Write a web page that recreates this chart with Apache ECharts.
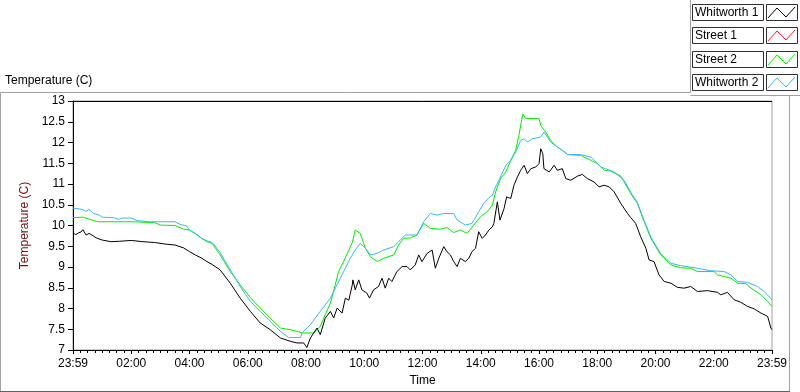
<!DOCTYPE html>
<html>
<head>
<meta charset="utf-8">
<script src="https://cdn.jsdelivr.net/npm/echarts@6/dist/echarts.min.js"></script>
<style>
html,body{margin:0;padding:0;background:#fff;}
#chart{width:800px;height:392px;}
</style>
</head>
<body>
<div id="chart"></div>
<script>
// ---- data (time in hours since 23:59, temperature in C) ----
var seriesNames = ['Whitworth 1', 'Street 1', 'Street 2', 'Whitworth 2'];
var seriesColors = ['#000000', '#ff2020', '#00ee00', '#3cb6f4'];
var xTickLabels = ['23:59','02:00','04:00','06:00','08:00','10:00','12:00','14:00','16:00','18:00','20:00','22:00','23:59'];

var whitworth1Hours = [0.00,0.10,0.20,0.27,0.34,0.45,0.55,0.65,0.80,1.00,1.30,1.60,2.00,2.40,2.80,3.20,3.50,3.80,4.00,4.20,4.40,4.60,4.78,
  5.05,5.40,5.74,6.09,6.43,6.77,7.12,7.46,7.69,7.92,8.03,8.15,8.38,8.49,8.66,8.84,8.95,9.07,9.24,9.35,9.47,9.59,
  9.61,9.69,9.81,9.92,10.09,10.18,10.32,10.49,10.61,10.72,10.84,10.95,11.12,11.30,11.47,11.58,11.75,11.87,11.98,12.16,12.33,12.44,12.56,12.73,12.84,12.96,13.07,13.19,13.30,13.47,13.59,13.70,13.82,13.93,14.05,14.16,14.28,14.40,
  14.45,14.57,14.66,14.80,14.89,15.03,15.14,15.26,15.37,15.49,15.60,15.72,15.89,16.00,16.06,16.13,16.17,16.35,16.52,16.63,16.80,16.92,17.09,17.32,17.49,17.66,17.89,18.06,18.24,18.41,18.58,18.81,19.04,
  19.15,19.32,19.49,19.67,19.78,19.95,20.12,20.30,20.53,20.75,20.98,21.21,21.44,21.79,22.13,22.24,22.47,22.70,22.93,23.16,23.39,23.62,23.85,23.96,24.00];
var whitworth1Temps = [9.82,9.78,9.83,9.84,9.90,9.77,9.81,9.77,9.70,9.65,9.61,9.62,9.64,9.61,9.59,9.55,9.53,9.46,9.37,9.29,9.22,9.13,9.06,
  8.93,8.61,8.25,7.93,7.65,7.49,7.29,7.21,7.17,7.17,7.06,7.29,7.53,7.37,7.77,7.93,7.77,8.01,7.89,8.25,8.20,8.57,
  8.69,8.45,8.69,8.45,8.37,8.25,8.45,8.53,8.73,8.49,8.73,8.65,8.89,9.01,9.01,8.93,9.05,9.29,9.13,9.33,9.41,8.97,9.21,9.49,9.37,9.29,9.13,9.01,9.21,9.13,9.21,9.37,9.45,9.85,9.69,9.77,9.89,9.97,
  10.05,10.57,10.13,10.41,10.69,10.65,10.97,11.17,11.33,11.45,11.25,11.37,11.41,11.49,11.85,11.73,11.37,11.29,11.45,11.33,11.37,11.13,11.09,11.19,11.23,11.13,11.05,10.93,10.97,10.93,10.81,10.53,10.29,
  10.19,10.05,9.73,9.45,9.17,9.13,8.81,8.65,8.61,8.51,8.49,8.53,8.41,8.43,8.39,8.33,8.39,8.21,8.15,8.05,7.99,7.89,7.81,7.53,7.49];

var street1Hours = [];
var street1Temps = [];

var street2Hours = [0.00,0.35,0.70,0.85,2.00,2.80,3.00,3.50,3.80,4.00,4.20,4.40,4.60,4.78,
  5.05,5.40,5.74,6.09,6.43,6.77,7.12,7.46,7.69,7.86,8.26,8.49,8.66,8.84,9.12,9.29,9.59,
  9.69,9.86,10.04,10.21,10.44,10.67,11.01,11.18,11.35,11.58,11.81,12.04,12.27,12.61,12.84,13.07,13.30,13.53,13.76,13.99,14.22,14.40,
  14.51,14.68,14.86,15.03,15.20,15.31,15.39,15.45,15.54,16.00,16.06,16.23,16.40,16.63,16.80,16.98,17.43,17.78,18.01,18.24,18.46,18.81,18.92,19.15,19.22,
  19.38,19.61,19.84,20.18,20.53,20.87,21.21,21.44,22.01,22.13,22.59,22.82,23.10,23.28,23.62,23.85,24.00];
var street2Temps = [10.19,10.20,10.12,10.09,10.09,10.07,10.01,10.00,9.91,9.89,9.81,9.70,9.61,9.57,
  9.29,8.89,8.57,8.26,8.01,7.77,7.53,7.49,7.45,7.41,7.41,7.57,7.85,8.13,8.89,9.13,9.59,
  9.89,9.81,9.45,9.25,9.13,9.21,9.29,9.53,9.69,9.70,9.77,10.05,9.93,9.91,9.95,9.83,9.89,9.81,10.01,10.21,10.33,10.49,
  10.81,11.13,11.29,11.57,11.81,12.17,12.49,12.69,12.58,12.58,12.41,12.25,12.05,11.89,11.81,11.71,11.69,11.57,11.49,11.33,11.31,11.19,11.05,10.77,10.69,
  10.53,10.09,9.69,9.29,9.05,8.98,8.97,8.89,8.89,8.81,8.73,8.61,8.60,8.49,8.33,8.17,8.05];

var whitworth2Hours = [0.00,0.30,0.45,0.55,0.70,0.90,1.00,1.40,1.55,1.70,2.00,2.20,2.60,3.50,3.70,3.90,4.00,4.20,4.40,4.60,4.78,
  5.05,5.40,5.74,6.09,6.43,6.77,7.12,7.40,7.81,7.86,8.15,8.49,8.84,9.18,9.52,
  9.69,9.86,10.04,10.21,10.44,10.67,11.01,11.24,11.41,11.81,12.04,12.27,12.50,12.73,13.07,13.19,13.47,13.70,13.93,14.10,14.28,14.40,
  14.51,14.68,14.86,15.03,15.20,15.37,15.49,15.60,15.77,16.06,16.17,16.29,16.40,16.63,16.80,16.98,17.43,17.78,18.12,18.58,18.92,19.15,
  19.38,19.61,19.84,20.18,20.53,20.87,21.44,21.90,22.36,22.59,22.82,23.16,23.50,23.73,24.00];
var whitworth2Temps = [10.42,10.39,10.34,10.39,10.29,10.25,10.20,10.19,10.15,10.18,10.18,10.12,10.09,10.09,10.02,9.99,9.89,9.80,9.70,9.63,9.59,
  9.35,8.93,8.53,8.17,7.93,7.69,7.45,7.30,7.30,7.41,7.61,7.93,8.25,8.73,9.21,
  9.41,9.57,9.45,9.29,9.33,9.41,9.49,9.65,9.77,9.77,10.09,10.29,10.25,10.29,10.29,10.13,10.01,10.05,10.33,10.53,10.67,10.73,
  10.93,11.17,11.45,11.57,11.77,12.05,12.09,12.01,12.09,12.13,12.25,12.13,12.01,11.89,11.81,11.71,11.71,11.65,11.41,11.29,11.09,10.80,
  10.55,10.12,9.72,9.32,9.09,9.03,8.97,8.91,8.89,8.81,8.65,8.63,8.53,8.41,8.21];

function zip(h, t) { return h.map(function (v, i) { return [v, t[i]]; }); }
var seriesData = [
  zip(whitworth1Hours, whitworth1Temps),
  zip(street1Hours, street1Temps),
  zip(street2Hours, street2Temps),
  zip(whitworth2Hours, whitworth2Temps)
];

var FONT = 'Liberation Sans';
var chart = echarts.init(document.getElementById('chart'), null, {renderer: 'canvas'});

// legend graphics (text boxes + zigzag swatches)
var legendGraphics = [];
var rowTops = [4, 27, 51, 74];
seriesNames.forEach(function (name, i) {
  var top = rowTops[i];
  legendGraphics.push({type: 'rect', shape: {x: 692.5, y: top + 0.5, width: 71, height: 16}, style: {fill: '#fff', stroke: '#303030', lineWidth: 1}});
  legendGraphics.push({type: 'text', x: 695, y: top + 9, style: {text: name, fill: '#000', font: '12px "' + FONT + '"', textVerticalAlign: 'middle'}});
  legendGraphics.push({type: 'rect', shape: {x: 766.5, y: top + 0.5, width: 31, height: 16}, style: {fill: '#fff', stroke: '#303030', lineWidth: 1}});
  legendGraphics.push({type: 'polyline', shape: {points: [[768, top + 14], [777, top + 4], [786, top + 13], [795, top + 3]]}, style: {stroke: seriesColors[i], lineWidth: 1, fill: null}});
});

var frameGraphics = [
  {type: 'polyline', shape: {points: [[0.5, 392], [0.5, 92.5], [690.5, 92.5], [690.5, 0]]}, style: {stroke: '#a0a0a0', lineWidth: 1, fill: null}},
  {type: 'polyline', shape: {points: [[690.5, 95.5], [800, 95.5]]}, style: {stroke: '#a0a0a0', lineWidth: 1, fill: null}},
  {type: 'line', shape: {x1: 789.5, y1: 95.5, x2: 789.5, y2: 392}, style: {stroke: '#a0a0a0', lineWidth: 1}},
  {type: 'line', shape: {x1: 0, y1: 391.5, x2: 790, y2: 391.5}, style: {stroke: '#606060', lineWidth: 1}},
  {type: 'line', shape: {x1: 72.5, y1: 101.5, x2: 772, y2: 101.5}, style: {stroke: '#000', lineWidth: 1}}
];

var option = {
  animation: false,
  backgroundColor: '#fff',
  textStyle: {fontFamily: FONT},
  title: {
    text: 'Temperature (C)', left: 5, top: 75, padding: 0,
    textStyle: {fontSize: 12, fontWeight: 'normal', color: '#000', fontFamily: FONT}
  },
  grid: {left: 73, right: 28, top: 101, bottom: 39, show: true, borderColor: '#a0a0a0', borderWidth: 1, backgroundColor: '#fff'},
  xAxis: {
    type: 'value', min: 0, max: 24, interval: 2,
    name: 'Time', nameLocation: 'middle', nameGap: 25,
    nameTextStyle: {fontSize: 12, color: '#000', fontFamily: FONT},
    axisLine: {show: true, lineStyle: {color: '#000', width: 1}},
    axisTick: {show: true, length: 4, lineStyle: {color: '#000'}},
    minorTick: {show: true, splitNumber: 8, length: 3, lineStyle: {color: '#000'}},
    splitLine: {show: false},
    axisLabel: {
      fontSize: 12, color: '#000', margin: 8, fontFamily: FONT,
      formatter: function (v) { return xTickLabels[Math.round(v / 2)]; }
    }
  },
  yAxis: {
    type: 'value', min: 7, max: 13, interval: 0.5,
    name: 'Temperature (C)', nameLocation: 'middle', nameGap: 34, nameRotate: 90,
    nameTextStyle: {fontSize: 12, color: '#6a1010', fontFamily: FONT},
    axisLine: {show: true, lineStyle: {color: '#000', width: 1}},
    axisTick: {show: true, length: 5, lineStyle: {color: '#000'}},
    splitLine: {show: false},
    axisLabel: {fontSize: 12, color: '#000', margin: 8, fontFamily: FONT}
  },
  graphic: frameGraphics.concat(legendGraphics),
  series: [2, 3, 1, 0].map(function (i) {
    return {
      name: seriesNames[i], type: 'line', data: seriesData[i],
      showSymbol: false, symbol: 'none', clip: true,
      lineStyle: {color: seriesColors[i], width: 1},
      itemStyle: {color: seriesColors[i]},
      z: 2 + (i === 0 ? 2 : 0)
    };
  })
};
chart.setOption(option);
</script>
</body>
</html>
